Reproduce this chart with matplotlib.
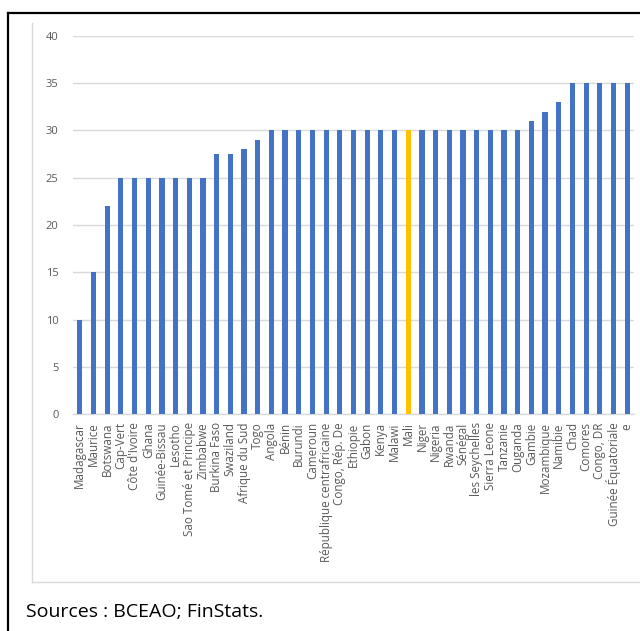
import matplotlib
matplotlib.use("Agg")
import matplotlib.pyplot as plt
from matplotlib.lines import Line2D
from matplotlib.transforms import Bbox

countries = ["Madagascar", "Maurice", "Botswana", "Cap-Vert", "Côte d'Ivoire", "Ghana",
             "Guinée-Bissau", "Lesotho", "Sao Tomé et Principe", "Zimbabwe", "Burkina Faso",
             "Swaziland", "Afrique du Sud", "Togo", "Angola", "Bénin", "Burundi", "Cameroun",
             "République centrafricaine", "Congo, Rép. De", "Ethiopie", "Gabon", "Kenya",
             "Malawi", "Mali", "Niger", "Nigeria", "Rwanda", "Sénégal", "les Seychelles",
             "Sierra Leone", "Tanzanie", "Ouganda", "Gambie", "Mozambique", "Namibie", "Chad",
             "Comores", "Congo, DR", "Guinée Équatoriale", "Guinée"]
values = [10, 15, 22, 25, 25, 25, 25, 25, 25, 25, 27.5, 27.5, 28, 29, 30, 30, 30, 30, 30,
          30, 30, 30, 30, 30, 30, 30, 30, 30, 30, 30, 30, 30, 30, 31, 32, 33, 35, 35, 35, 35, 35]
highlight = "Mali"
yticks = [0, 5, 10, 15, 20, 25, 30, 35, 40]
source = "Sources : BCEAO; FinStats."

plt.rcParams['font.family'] = ['Open Sans', 'DejaVu Sans']

W, H = 640, 631
fig = plt.figure(figsize=(W / 100, H / 100), dpi=100)

def fx(px):
    return px / W

def fy(py):
    return 1 - py / H

# outer black frame (left and top visible)
fig.add_artist(Line2D([fx(8), fx(8)], [fy(13), 0], color="black", lw=1.6, transform=fig.transFigure))
fig.add_artist(Line2D([fx(8), 1], [fy(13), fy(13)], color="black", lw=1.6, transform=fig.transFigure))
# inner light grey chart box
fig.add_artist(Line2D([fx(32), fx(32)], [fy(23), fy(582)], color="#D9D9D9", lw=1.0, transform=fig.transFigure))
fig.add_artist(Line2D([fx(32), 1], [fy(582), fy(582)], color="#D9D9D9", lw=1.0, transform=fig.transFigure))

ax = fig.add_axes([fx(73), fy(414), fx(634) - fx(73), fy(36) - fy(414)])
x = list(range(len(countries)))
colors = ["#FFC000" if c == highlight else "#4472C4" for c in countries]
ax.bar(x, values, width=0.38, color=colors, zorder=3)
ax.set_xlim(-0.5, len(countries) - 0.5)
ax.set_ylim(0, 40)
ax.set_yticks(yticks)
ax.set_yticklabels([str(t) for t in yticks], fontsize=8, color="#595959")
ax.set_xticks(x)
ax.set_xticklabels(countries, rotation=90, fontsize=8.4, color="#595959")
ax.tick_params(axis="both", length=0)
ax.tick_params(axis="y", pad=10.5)
ax.tick_params(axis="x", pad=6)
ax.grid(axis="y", color="#D9D9D9", lw=1.0, zorder=0)
for s in ["top", "right", "left"]:
    ax.spines[s].set_visible(False)
ax.spines["bottom"].set_color("#D9D9D9")
ax.spines["bottom"].set_linewidth(1.0)

labels = ax.get_xticklabels()
for lbl in labels[:-1]:
    lbl.set_clip_box(Bbox.from_extents(0, 0, 632, H))
    lbl.set_clip_on(True)
# the last label overflows the chart area and is cut off in the original
labels[-1].set_clip_box(Bbox.from_extents(0, H - 431, 634, H))
labels[-1].set_clip_on(True)

fig.text(fx(26), fy(612), source, fontsize=14, color="black", va="center", ha="left")

fig.savefig("out.png", dpi=100)
